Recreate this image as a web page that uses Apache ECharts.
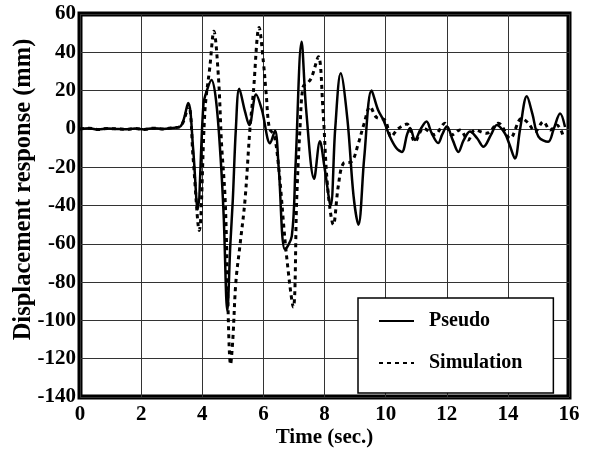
<!DOCTYPE html>
<html>
<head>
<meta charset="utf-8">
<script src="https://cdn.jsdelivr.net/npm/echarts@6/dist/echarts.min.js"></script>
<style>html,body{margin:0;padding:0;background:#fff}#c{width:595px;height:453px}</style>
</head>
<body>
<div id="c"></div>
<script>
// Pseudo (solid) response: time (s) and displacement (mm)
var tPseudo = [0,0.3,0.6,0.9,1.2,1.5,1.8,2.1,2.4,2.7,3.0,3.3,3.54,3.7,3.85,4.04,4.15,4.3,4.45,4.6,4.7,4.82,4.92,5.0,5.1,5.21,5.4,5.54,5.76,5.95,6.22,6.38,6.5,6.71,6.93,7.05,7.25,7.4,7.66,7.85,8.0,8.2,8.35,8.53,8.75,8.95,9.11,9.3,9.54,9.75,9.93,10.14,10.35,10.53,10.7,10.8,10.96,11.15,11.34,11.5,11.72,11.85,12.0,12.2,12.38,12.55,12.76,13.0,13.2,13.45,13.64,13.9,14.05,14.23,14.4,14.62,14.8,15.0,15.32,15.5,15.71,15.87];
var vPseudo = [0,0.3,-0.3,0.2,0,-0.2,0.2,-0.3,0.4,0,0.5,1.5,13.5,-10,-42,13,20,25.5,15,-15,-45,-95,-60,-37,0,21,9,2,18,10,-7.5,-1,-20,-63,-56,-20,45.5,10,-26,-6.5,-20,-40,0,29,5,-35,-50,-15,20,10,4.5,-4,-10,-12,-3,0.5,-5.8,0,3.8,-2,-7.4,-3,1.2,-6,-12,-6,-1.4,-5,-9.3,-3,2,-2.3,-8,-15.4,0,17,8,-4,-6.7,0,8,1];
// Simulation (dashed) response
var tSim = [0,0.3,0.6,0.9,1.2,1.5,1.8,2.1,2.4,2.7,3.0,3.3,3.55,3.7,3.9,4.09,4.25,4.38,4.53,4.63,4.75,4.93,5.0,5.1,5.24,5.4,5.56,5.67,5.86,6.0,6.09,6.2,6.35,6.5,6.75,6.98,7.09,7.2,7.3,7.45,7.58,7.8,7.95,8.1,8.29,8.45,8.62,8.89,9.1,9.3,9.49,9.7,9.98,10.18,10.4,10.7,10.96,11.24,11.6,11.94,12.16,12.43,12.7,12.92,13.3,13.69,14.07,14.45,14.67,14.89,15.16,15.38,15.6,15.82];
var vSim = [0,0.3,-0.3,0.2,0,-0.2,0.2,-0.3,0.4,0,0.5,1.5,12,-15,-53,10,32.5,51,27,-7.4,-37,-123,-110,-80,-60,-37,0,18.7,53,35,18.7,0,-3,-20,-65,-93,-37,1,22,24,27,37.7,10,-30,-50,-30,-18,-17,-8,3,11.6,6,4.6,-4,0,2.5,-6.7,0.3,-3,3,-3.2,-0.6,-5.8,-0.6,-2.3,3,-4.9,5.5,3,-1.4,3.8,-0.6,2,-4];
var xTicks = [0,2,4,6,8,10,12,14,16];
var yTicks = [-140,-120,-100,-80,-60,-40,-20,0,20,40,60];

function pairs(t, v){ return t.map(function(x,i){ return [x, v[i]]; }); }
var font = '"Liberation Serif", "Times New Roman", serif';
var chart = echarts.init(document.getElementById('c'), null, {renderer:'canvas'});
chart.setOption({
  animation:false,
  backgroundColor:'#fff',
  grid:{left:80,right:26,top:14,bottom:56,show:true,borderColor:'#000',borderWidth:5,backgroundColor:'transparent',
    containLabel:false,outerBoundsMode:'none'},
  xAxis:{type:'value',min:xTicks[0],max:xTicks[xTicks.length-1],interval:2,
    name:'Time (sec.)',nameLocation:'middle',nameGap:30,nameMoveOverlap:false,
    nameTextStyle:{fontFamily:font,fontWeight:'bold',fontSize:21,color:'#000'},
    axisLine:{show:false},axisTick:{show:false},
    axisLabel:{margin:7,fontFamily:font,fontWeight:'bold',fontSize:21,color:'#000'},
    splitLine:{show:true,lineStyle:{color:'#333',width:1}}},
  yAxis:{type:'value',min:yTicks[0],max:yTicks[yTicks.length-1],interval:20,
    name:'Displacement response (mm)',nameLocation:'middle',nameGap:44,nameMoveOverlap:false,
    nameTextStyle:{fontFamily:font,fontWeight:'bold',fontSize:24.5,color:'#000',padding:[0,0,0,32]},
    axisLine:{show:false},axisTick:{show:false},
    axisLabel:{margin:4,fontFamily:font,fontWeight:'bold',fontSize:21,color:'#000'},
    splitLine:{show:true,lineStyle:{color:'#333',width:1}}},
  legend:{orient:'vertical',left:358,top:298,padding:[13,31,20,20],itemGap:22,
    itemWidth:35,itemHeight:14,backgroundColor:'#fff',borderColor:'#000',borderWidth:1.5,
    itemStyle:{opacity:0,borderWidth:0},
    textStyle:{fontFamily:font,fontWeight:'bold',fontSize:20,color:'#000',lineHeight:20,padding:[0,0,0,10]},
    data:['Pseudo','Simulation']},
  series:[
    {name:'Simulation',type:'line',data:pairs(tSim,vSim),smooth:0.35,symbol:'none',
      lineStyle:{color:'#000',width:3,type:[4,4]},itemStyle:{color:'#000'},z:3},
    {name:'Pseudo',type:'line',data:pairs(tPseudo,vPseudo),smooth:0.35,symbol:'none',
      lineStyle:{color:'#000',width:2.5,type:'solid'},itemStyle:{color:'#000'},z:4}
  ]
});
</script>
</body>
</html>
